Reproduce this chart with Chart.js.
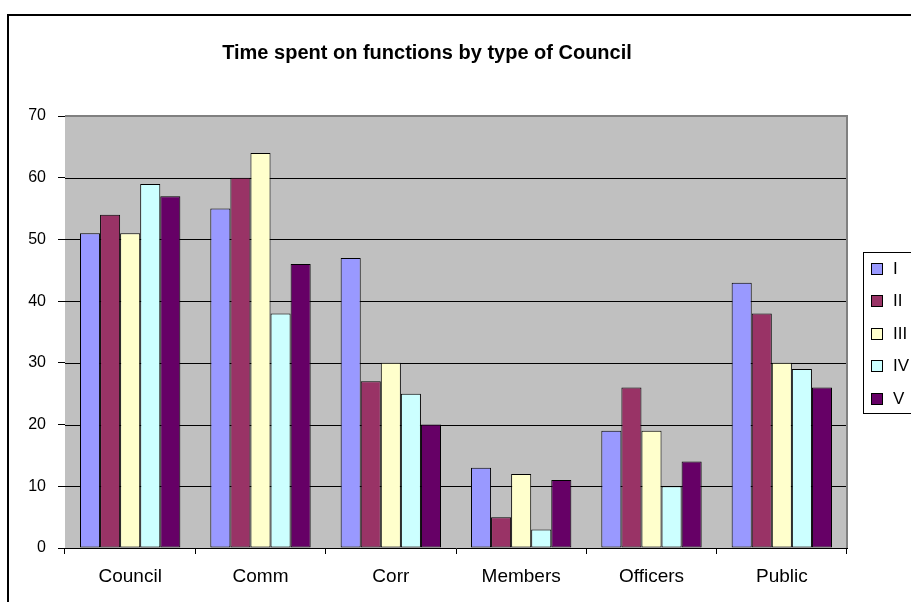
<!DOCTYPE html>
<html>
<head>
<meta charset="utf-8">
<title>Time spent on functions by type of Council</title>
<script src="https://cdn.jsdelivr.net/npm/chart.js@4/dist/chart.umd.min.js"></script>
<style>
  html, body { margin: 0; padding: 0; background: #ffffff; overflow: hidden; }
  #wrap { position: relative; width: 911px; height: 602px; }
</style>
</head>
<body>
<div id="wrap"><canvas id="chart" width="911" height="602"></canvas></div>
<script>
// Functions (categories) and council types (series)
const categories = ['Council', 'Comm', 'Corr', 'Members', 'Officers', 'Public'];
const seriesNames = ['I', 'II', 'III', 'IV', 'V'];

const seriesI   = [51, 55, 47, 13, 19, 43];
const seriesII  = [54, 60, 27,  5, 26, 38];
const seriesIII = [51, 64, 30, 12, 19, 30];
const seriesIV  = [59, 38, 25,  3, 10, 29];
const seriesV   = [57, 46, 20, 11, 14, 26];

const yTicks = [0, 10, 20, 30, 40, 50, 60, 70];
const chartTitle = 'Time spent on functions by type of Council';

const seriesColors = ['#9999FF', '#993366', '#FFFFCC', '#CCFFFF', '#660066'];
const FONT = "'Liberation Sans', Arial, Helvetica, sans-serif";

const seriesValues = [seriesI, seriesII, seriesIII, seriesIV, seriesV];

// Grey plot background, plot frame, outer frame, title and boxed legend
const decorations = {
  id: 'decorations',
  beforeDatasetsDraw(chart) {
    const { ctx, chartArea: a } = chart;
    ctx.save();
    ctx.fillStyle = '#C0C0C0';
    ctx.fillRect(a.left, a.top, a.right - a.left, a.bottom - a.top);
    ctx.restore();
    // horizontal grid lines above the fill
    const y = chart.scales.y;
    ctx.save();
    ctx.strokeStyle = '#000000';
    ctx.lineWidth = 1;
    y.ticks.forEach(t => {
      if (t.value === 0 || t.value === 70) return;
      const py = Math.round(y.getPixelForValue(t.value)) + 0.5;
      ctx.beginPath();
      ctx.moveTo(a.left, py);
      ctx.lineTo(a.right, py);
      ctx.stroke();
    });
    ctx.restore();
  },
  afterDraw(chart) {
    const { ctx, chartArea: a } = chart;
    ctx.save();
    // plot frame (top and right)
    ctx.strokeStyle = '#808080';
    ctx.lineWidth = 2;
    ctx.beginPath();
    ctx.moveTo(a.left, a.top);
    ctx.lineTo(a.right, a.top);
    ctx.lineTo(a.right, a.bottom);
    ctx.stroke();

    // outer chart frame
    ctx.strokeStyle = '#000000';
    ctx.lineWidth = 2;
    ctx.beginPath();
    ctx.moveTo(8, 602);
    ctx.lineTo(8, 15);
    ctx.lineTo(911, 15);
    ctx.stroke();

    // title
    ctx.fillStyle = '#000000';
    ctx.font = 'bold 20px ' + FONT;
    ctx.textAlign = 'center';
    ctx.textBaseline = 'middle';
    ctx.fillText(chartTitle, 427, 53);

    // legend
    const lx = 863, ly = 252, lh = 161;
    ctx.fillStyle = '#ffffff';
    ctx.fillRect(lx, ly, 80, lh);
    ctx.strokeStyle = '#000000';
    ctx.lineWidth = 1;
    ctx.strokeRect(lx + 0.5, ly + 0.5, 80, lh);
    ctx.font = '17px ' + FONT;
    ctx.textAlign = 'left';
    ctx.textBaseline = 'middle';
    chart.data.datasets.forEach((ds, i) => {
      const cy = 268 + i * 32.5;
      ctx.fillStyle = ds.backgroundColor;
      ctx.fillRect(871, Math.round(cy - 5.5), 11, 11);
      ctx.strokeStyle = '#000000';
      ctx.strokeRect(871.5, Math.round(cy - 5.5) + 0.5, 11, 11);
      ctx.fillStyle = '#000000';
      ctx.fillText(ds.label, 893, cy + 1);
    });
    ctx.restore();
  }
};

new Chart(document.getElementById('chart'), {
  type: 'bar',
  data: {
    labels: categories,
    datasets: seriesNames.map((name, i) => ({
      label: name,
      data: seriesValues[i],
      backgroundColor: seriesColors[i],
      borderColor: '#000000',
      borderWidth: 1,
      borderSkipped: false,
      categoryPercentage: 0.77,
      barPercentage: 1.0
    }))
  },
  options: {
    responsive: false,
    animation: false,
    events: [],
    layout: { padding: { left: 0, top: 116, right: 64, bottom: 0 } },
    plugins: {
      legend: { display: false },
      title: { display: false },
      tooltip: { enabled: false }
    },
    scales: {
      x: {
        offset: true,
        afterFit(scale) { scale.height = 54; },
        grid: {
          display: true,
          offset: true,
          drawOnChartArea: false,
          drawTicks: true,
          tickLength: 6,
          color: '#000000',
          tickColor: '#000000',
          lineWidth: 1
        },
        border: { display: true, color: '#000000', width: 1 },
        ticks: {
          color: '#000000',
          font: { family: FONT, size: 19 },
          padding: 11,
          maxRotation: 0
        }
      },
      y: {
        min: 0,
        max: 70,
        afterFit(scale) { scale.width = 65; },
        afterBuildTicks(scale) { scale.ticks = yTicks.map(v => ({ value: v })); },
        grid: {
          display: true,
          drawOnChartArea: false,
          drawTicks: true,
          tickLength: 7,
          color: '#000000',
          tickColor: '#000000',
          lineWidth: 1
        },
        border: { display: true, color: '#000000', width: 1 },
        ticks: {
          color: '#000000',
          font: { family: FONT, size: 16 },
          padding: 12
        }
      }
    }
  },
  plugins: [decorations]
});
</script>
</body>
</html>
